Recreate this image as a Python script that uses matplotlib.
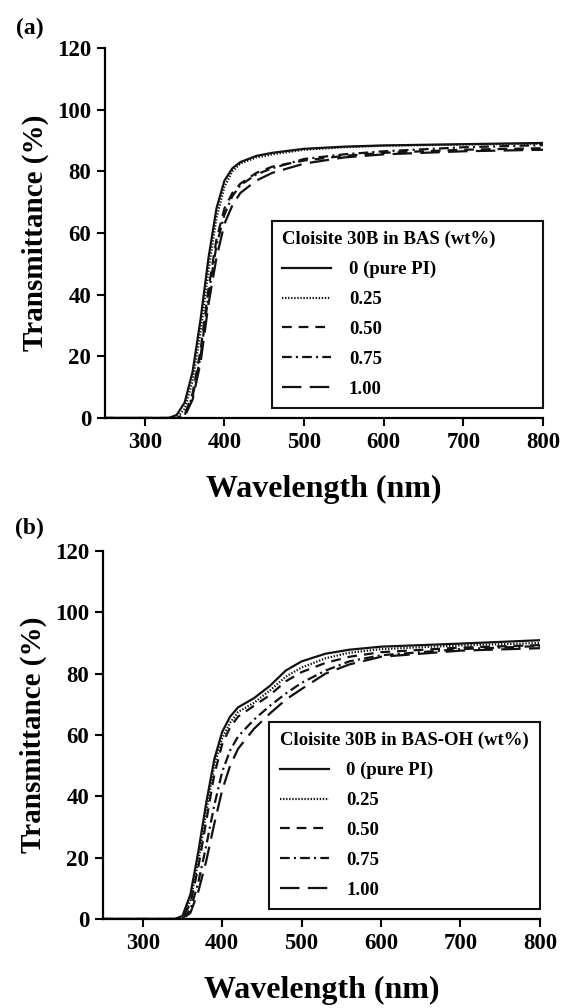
import numpy as np
import matplotlib
matplotlib.use("Agg")
import matplotlib.pyplot as plt

plt.rcParams["font.family"] = ["Liberation Serif", "DejaVu Serif"]
plt.rcParams["font.weight"] = "bold"
plt.rcParams["lines.scale_dashes"] = False

labels = ["0 (pure PI)", "0.25", "0.50", "0.75", "1.00"]

# panel (a): Cloisite 30B in BAS
wl_a = [250, 330, 340, 350, 360, 370, 380, 390, 400, 410, 420, 440, 460, 500, 550, 600, 700, 800]
t_a = [
    [0, 0, 1, 5, 15, 32, 52, 68, 77, 81, 83, 85, 86, 87.3, 88, 88.4, 88.8, 89.2],
    [0, 0, 0, 3, 12, 28, 48, 65, 75, 80, 82.5, 84.5, 85.5, 87, 87.8, 88.3, 88.7, 89.0],
    [0, 0, 0, 1, 8, 22, 42, 58, 68, 73, 76, 79.5, 81.5, 83.5, 85, 86, 87, 87.5],
    [0, 0, 0, 1, 7, 20, 40, 56, 66, 72, 75.5, 79, 81, 84, 85.5, 86.5, 87.8, 88.5],
    [0, 0, 0, 0.5, 6, 18, 37, 52, 63, 69, 73, 77, 79.5, 82.5, 84.5, 85.5, 86.5, 87.0],
]

# panel (b): Cloisite 30B in BAS-OH
wl_b = [250, 340, 350, 360, 370, 380, 390, 400, 410, 420, 440, 460, 480, 500, 530, 560, 600, 700, 800]
t_b = [
    [0, 0, 1, 8, 22, 38, 52, 61, 66, 69, 72, 76, 81, 84, 86.5, 87.8, 88.8, 89.8, 90.9],
    [0, 0, 0.5, 6, 19, 35, 50, 59, 64, 67.5, 70.5, 74.5, 79, 82, 85, 86.8, 88, 89.2, 90.0],
    [0, 0, 0.3, 5, 17, 32, 47, 57, 62.5, 66, 69.5, 73, 77.5, 80.5, 83.5, 85.5, 87, 88.5, 89.3],
    [0, 0, 0, 3, 12, 24, 37, 48, 55, 59.5, 65, 69.5, 73.5, 77, 81, 84, 86, 88, 89.0],
    [0, 0, 0, 2, 9, 19, 31, 42, 50, 55.5, 62, 67, 71.5, 75, 80, 83, 85.5, 87.5, 88.3],
]

styles = ["-", (0, (1, 1.2)), (0, (7, 5)), (0, (7, 3, 1.5, 3)), (0, (14, 6))]

fig = plt.figure(figsize=(5.63, 10.08), dpi=100)
ax_a = fig.add_axes([0.1865, 0.5853, 0.778, 0.3671])
ax_b = fig.add_axes([0.183, 0.0883, 0.776, 0.3651])


def draw(ax, wl, series, title):
    for ys, ls, lab in zip(series, styles, labels):
        ax.plot(wl, ys, color="#111111", lw=1.6, ls=ls, label=lab)
    ax.set_xlim(250, 800)
    ax.set_ylim(0, 120)
    ax.set_xticks([300, 400, 500, 600, 700, 800])
    ax.set_yticks([0, 20, 40, 60, 80, 100, 120])
    for s in ("top", "right"):
        ax.spines[s].set_visible(False)
    for s in ("left", "bottom"):
        ax.spines[s].set_linewidth(1.6)
    ax.tick_params(direction="out", length=6, width=1.5, labelsize=16.5, pad=4)
    ax.set_xlabel("Wavelength (nm)", fontsize=23, fontweight="bold", labelpad=16)
    ax.set_ylabel("Transmittance (%)", fontsize=21, fontweight="bold", labelpad=6)
    leg = ax.legend(loc="lower left", bbox_to_anchor=(0.381, 0.027, 0.619, 0.5),
                    mode="expand", borderaxespad=0, title=title, alignment="left",
                    prop={"size": 13.5, "weight": "bold"},
                    title_fontproperties={"size": 13.5, "weight": "bold"},
                    handlelength=2.6, handletextpad=0.95, labelspacing=0.68,
                    borderpad=0.55, fancybox=False, edgecolor="#111111",
                    framealpha=1)
    leg.get_frame().set_linewidth(1.5)


draw(ax_a, wl_a, t_a, "Cloisite 30B in BAS (wt%)")
draw(ax_b, wl_b, t_b, "Cloisite 30B in BAS-OH (wt%)")

fig.text(0.053, 0.972, "(a)", fontsize=17, fontweight="bold", ha="center", va="center")
fig.text(0.053, 0.476, "(b)", fontsize=17, fontweight="bold", ha="center", va="center")

fig.savefig("out.png", dpi=100)
